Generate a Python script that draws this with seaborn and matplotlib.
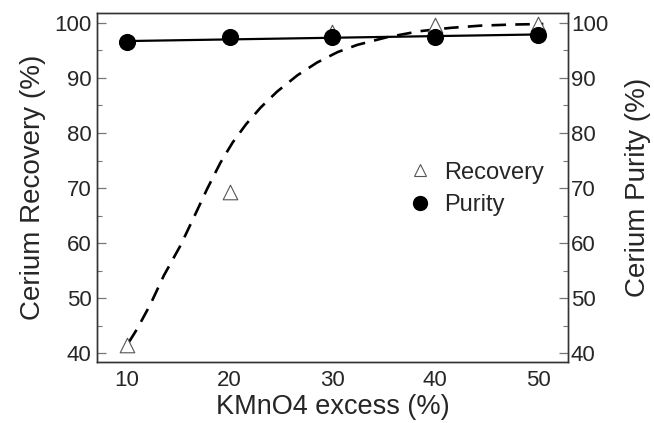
import numpy as np
import pandas as pd
import seaborn as sns
import matplotlib.pyplot as plt
from matplotlib.lines import Line2D
from matplotlib.ticker import MultipleLocator

# measured points
excess = [10, 20, 30, 40, 50]
recovery = [41.5, 69.2, 98.4, 99.7, 99.8]
purity = [96.5, 97.5, 97.5, 97.4, 97.8]

# dashed fit curve for recovery
fit_x = [10.2, 11.0, 12.3, 13.6, 15.2, 16.5, 17.8, 19.1, 20.3, 21.6, 23.0, 24.6,
         26.6, 28.5, 30.5, 32.4, 35.3, 38.5, 41.5, 44.4, 47.5, 50.5]
fit_y = [42.0, 44.4, 48.9, 54.1, 59.5, 64.6, 69.8, 74.6, 78.3, 81.6, 84.6, 87.5,
         90.5, 92.8, 94.7, 96.0, 97.4, 98.5, 99.1, 99.5, 99.7, 99.8]

# solid linear fit for purity
lin_x = [10, 50]
lin_y = [96.7, 97.9]

sns.set_style("ticks")
plt.rcParams['font.family'] = ['Liberation Sans', 'DejaVu Sans']

fig = plt.figure(figsize=(6.54, 4.23), dpi=100)
ax = fig.add_axes([0.1483, 0.1442, 0.7202, 0.8251])

sns.lineplot(x=fit_x, y=fit_y, ax=ax, color='black', linewidth=1.9,
             linestyle=(0, (5.5, 3.5)), sort=False)
sns.lineplot(x=lin_x, y=lin_y, ax=ax, color='black', linewidth=1.6)
sns.scatterplot(x=excess, y=recovery, ax=ax, marker='^', s=110,
                facecolor='white', edgecolor='#555555', linewidth=0.8, zorder=3)
sns.scatterplot(x=excess, y=purity, ax=ax, marker='o', s=130,
                color='black', edgecolor='black', zorder=4)

ax.set_xlim(7.1, 52.9)
ax.set_ylim(38.4, 101.8)
ax.set_xticks(excess)
ax.yaxis.set_major_locator(MultipleLocator(10))
ax.yaxis.set_minor_locator(MultipleLocator(5))
ax.tick_params(axis='x', length=0, labelsize=16, pad=6)
ax.tick_params(axis='y', which='major', direction='in', length=6.5, width=0.9,
               color='#777777', labelsize=16, pad=4)
ax.tick_params(axis='y', which='minor', direction='in', length=3.5, width=0.8,
               color='#777777')
ax.set_xlabel('KMnO4 excess (%)', fontsize=19.5, labelpad=2)
ax.set_ylabel('Cerium Recovery (%)', fontsize=20, labelpad=6)

ax2 = ax.twinx()
ax2.set_ylim(ax.get_ylim())
ax2.yaxis.set_major_locator(MultipleLocator(10))
ax2.yaxis.set_minor_locator(MultipleLocator(5))
ax2.tick_params(axis='y', which='major', direction='in', length=6.5, width=0.9,
                color='#777777', labelsize=16, pad=2)
ax2.tick_params(axis='y', which='minor', direction='in', length=3.5, width=0.8,
                color='#777777')
ax2.set_ylabel('Cerium Purity (%)', fontsize=20, labelpad=12)

for a in (ax, ax2):
    for s in a.spines.values():
        s.set_visible(True)
        s.set_linewidth(1.0)
        s.set_color('#333333')

handles = [
    Line2D([], [], marker='^', linestyle='', markersize=9, markerfacecolor='white',
           markeredgecolor='#555555', markeredgewidth=0.8),
    Line2D([], [], marker='o', linestyle='', markersize=10, color='black'),
]
ax.legend(handles, ['Recovery', 'Purity'], loc='center left',
          bbox_to_anchor=(0.616, 0.496), frameon=False, fontsize=17,
          handlelength=1.0, handletextpad=0.5, labelspacing=0.45)

fig.savefig('out.png', dpi=100)
